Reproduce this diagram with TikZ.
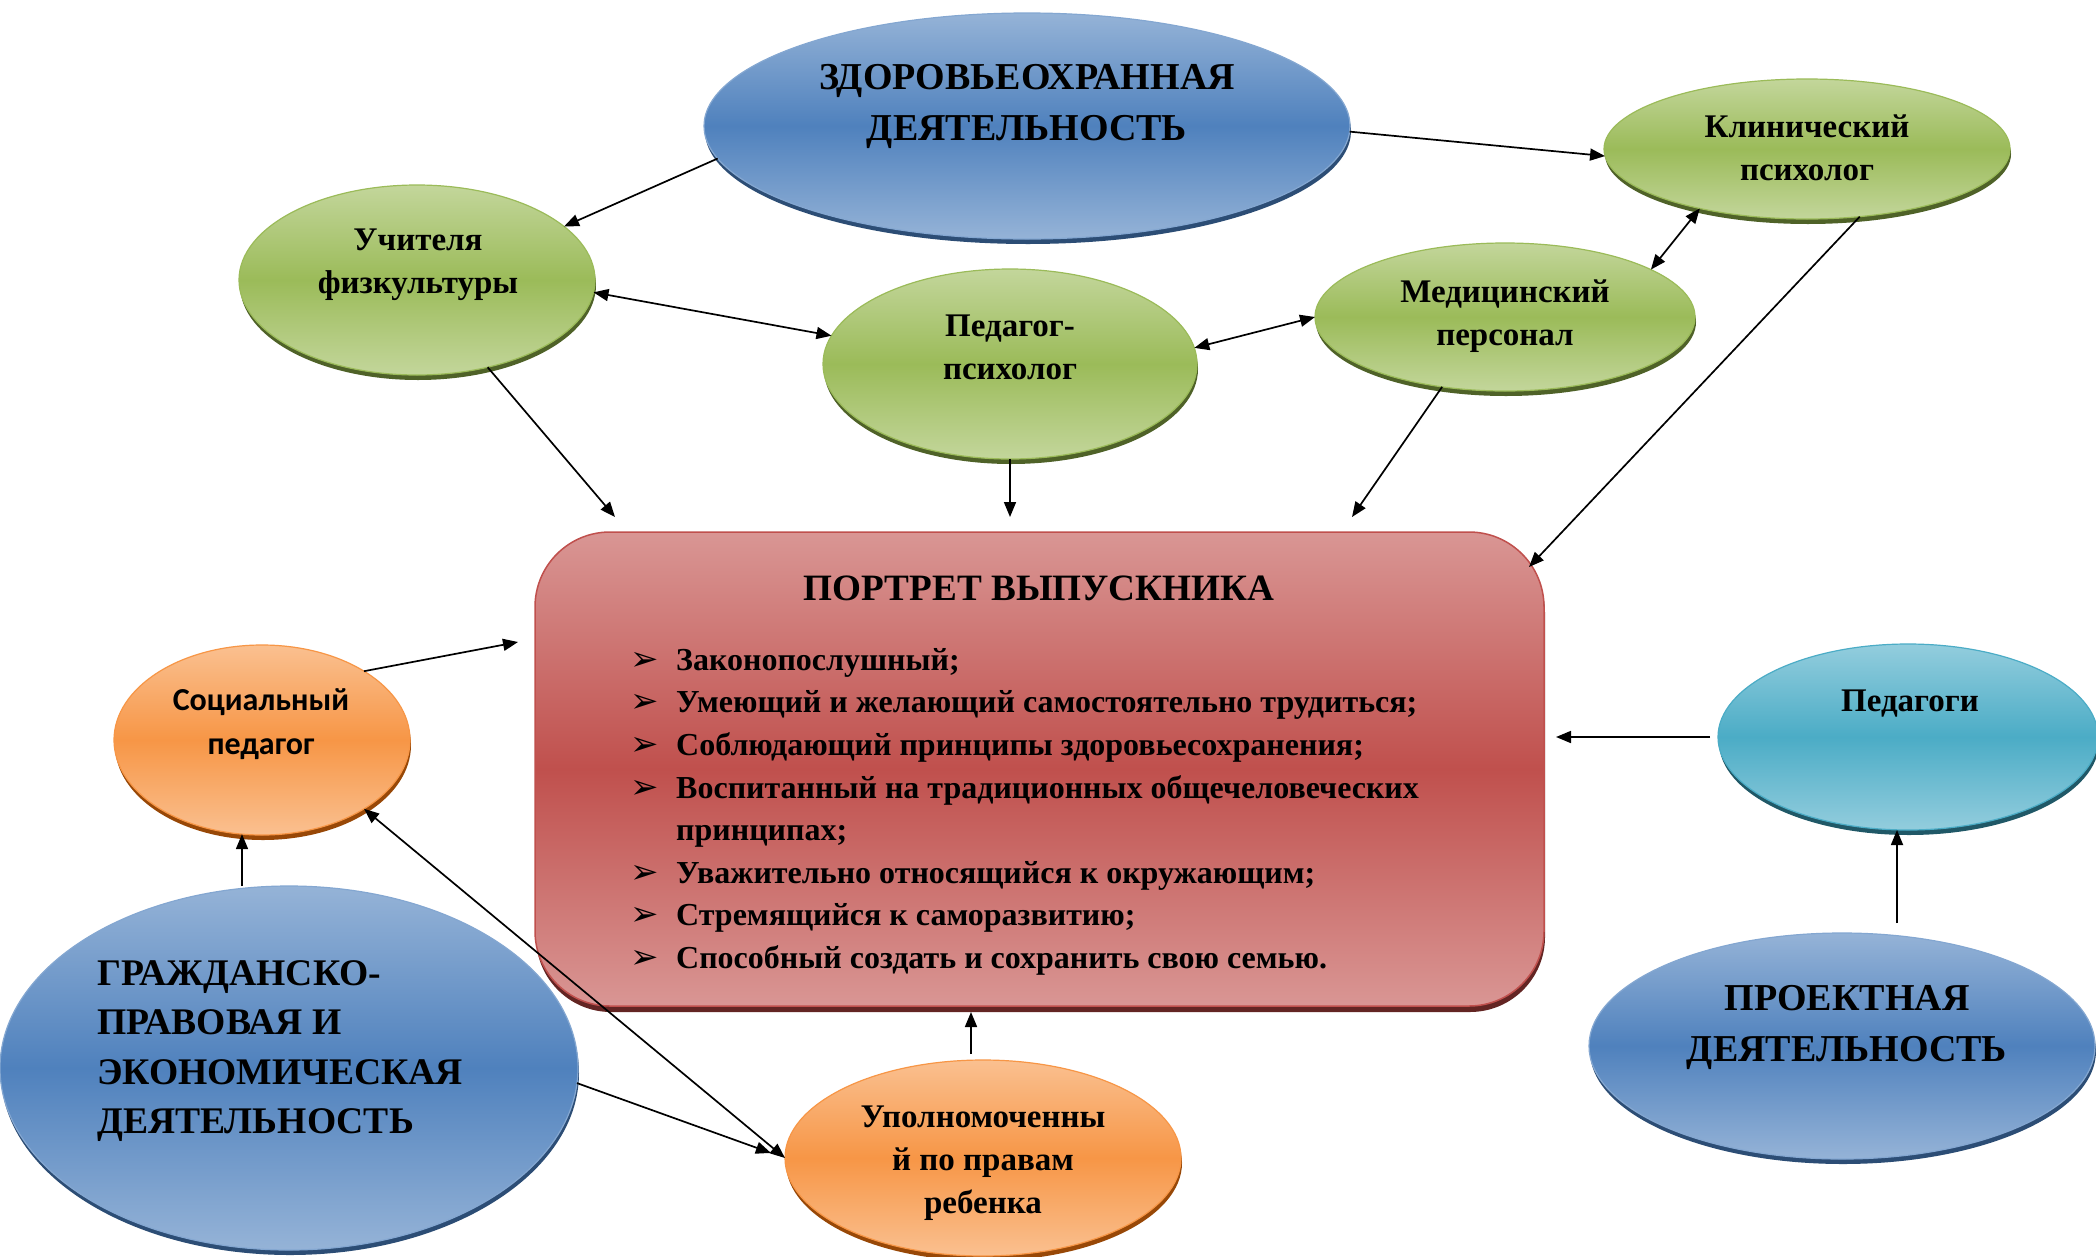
\documentclass[tikz,border=0pt]{standalone}
\usepackage{fontspec}
\setmainfont{Liberation Serif}
\newfontfamily\carl{Carlito}
\newfontfamily\djv{DejaVu Sans}
\usetikzlibrary{shapes.geometric,arrows.meta,shadows,calc}
\definecolor{blueT}{HTML}{95B3D7}
\definecolor{blueM}{HTML}{4F81BD}
\definecolor{blueR}{HTML}{2C4D75}
\definecolor{greenT}{HTML}{C3D69B}
\definecolor{greenM}{HTML}{9BBB59}
\definecolor{greenR}{HTML}{4F6228}
\definecolor{orT}{HTML}{FAC090}
\definecolor{orM}{HTML}{F79646}
\definecolor{orR}{HTML}{984807}
\definecolor{tealT}{HTML}{93CDDD}
\definecolor{tealM}{HTML}{4BACC6}
\definecolor{tealR}{HTML}{205867}
\definecolor{redT}{HTML}{D99694}
\definecolor{redM}{HTML}{C0504D}
\definecolor{redR}{HTML}{632523}
\newcommand{\blt}{\makebox[46pt][l]{\normalfont\djv\fontsize{34}{34}\selectfont ➢}}
\tikzset{
  ell/.style={ellipse, inner sep=0pt, outer sep=0pt},
  blueell/.style={ell, draw=blueM!70!white, line width=1.2pt, top color=blueT, bottom color=blueT, middle color=blueM,
     general shadow={fill=blueR, shadow xshift=1pt, shadow yshift=-5pt}},
  greenell/.style={ell, draw=greenM, line width=1.2pt, top color=greenT, bottom color=greenT, middle color=greenM,
     general shadow={fill=greenR, shadow xshift=1pt, shadow yshift=-5pt}},
  orell/.style={ell, draw=orM, line width=1.2pt, top color=orT, bottom color=orT, middle color=orM,
     general shadow={fill=orR, shadow xshift=1pt, shadow yshift=-5pt}},
  tealell/.style={ell, draw=tealM, line width=1.2pt, top color=tealT, bottom color=tealT, middle color=tealM,
     general shadow={fill=tealR, shadow xshift=1pt, shadow yshift=-5pt}},
  redbox/.style={rectangle, rounded corners=75pt, inner sep=0pt, outer sep=0pt, draw=redM, line width=1.5pt,
     top color=redT, bottom color=redT, middle color=redM,
     general shadow={fill=redR, shadow xshift=1pt, shadow yshift=-6pt}},
  bigtxt/.style={font=\bfseries\fontsize{38}{51}\selectfont, align=center, inner sep=0pt},
  midtxt/.style={font=\bfseries\fontsize{33}{43}\selectfont, align=center, inner sep=0pt},
  arr/.style={line width=1.7pt, -{Triangle[length=15pt,width=12pt]}},
  darr/.style={line width=1.7pt, {Triangle[length=15pt,width=12pt]}-{Triangle[length=15pt,width=12pt]}},
}
\begin{document}
\begin{tikzpicture}[x=1pt,y=-1pt]
\useasboundingbox[fill=white] (0,0) rectangle (2096,1256);
% shapes
\node[blueell, minimum width=646pt, minimum height=226pt] (zdor) at (1027,126) {};
\node[greenell, minimum width=406pt, minimum height=140pt] (klin) at (1807,149) {};
\node[greenell, minimum width=356pt, minimum height=190pt] (uchit) at (417,280) {};
\node[greenell, minimum width=374pt, minimum height=190pt] (pedpsy) at (1010,364) {};
\node[greenell, minimum width=380pt, minimum height=148pt] (med) at (1505,317) {};
\node[redbox, minimum width=1009pt, minimum height=474pt] (portret) at (1039.5,769) {};
\node[orell, minimum width=296pt, minimum height=190pt] (soc) at (262,740) {};
\node[blueell, minimum width=578pt, minimum height=364pt] (grazh) at (289,1068) {};
\node[orell, minimum width=396pt, minimum height=196pt] (upoln) at (983,1158) {};
\node[tealell, minimum width=380pt, minimum height=186pt] (pedagogi) at (1908,737) {};
\node[blueell, minimum width=506pt, minimum height=226pt] (proekt) at (1842,1046) {};
% texts
\node[bigtxt] (tzdor) at (1027,106) {ЗДОРОВЬЕОХРАННАЯ\\ДЕЯТЕЛЬНОСТЬ};
\node[midtxt] (tklin) at (1807,148) {Клинический\\психолог};
\node[midtxt] (tuchit) at (418,265) {Учителя\\физкультуры};
\node[midtxt] (tpedpsy) at (1010,347) {Педагог-\\психолог};
\node[midtxt] (tmed) at (1505,316) {Медицинский\\персонал};
\node[font=\bfseries\fontsize{37.2}{43}\selectfont, inner sep=0pt] (tportret) at (1039,588) {ПОРТРЕТ ВЫПУСКНИКА};
\node[font=\bfseries\fontsize{32}{42.6}\selectfont, align=left, inner sep=0pt, anchor=north west] (tlist) at (630,648)
 {\blt Законопослушный;\\
  \blt Умеющий и желающий самостоятельно трудиться;\\
  \blt Соблюдающий принципы здоровьесохранения;\\
  \blt Воспитанный на традиционных общечеловеческих\\
  \makebox[46pt][l]{}принципах;\\
  \blt Уважительно относящийся к окружающим;\\
  \blt Стремящийся к саморазвитию;\\
  \blt Способный создать и сохранить свою семью.};
\node[font=\carl\bfseries\fontsize{32}{44}\selectfont, align=center, inner sep=0pt] (tsoc) at (261,724) {Социальный\\педагог};
\node[font=\bfseries\fontsize{37.6}{49.5}\selectfont, align=left, inner sep=0pt, anchor=west] (tgrazh) at (97,1051) {ГРАЖДАНСКО-\\ПРАВОВАЯ И\\ЭКОНОМИЧЕСКАЯ\\ДЕЯТЕЛЬНОСТЬ};
\node[midtxt] (tupoln) at (983,1163) {Уполномоченны\\й по правам\\ребенка};
\node[midtxt] (tpedagogi) at (1910,704) {Педагоги};
\node[bigtxt] (tproekt) at (1847,1027) {ПРОЕКТНАЯ\\ДЕЯТЕЛЬНОСТЬ};
% connectors
\draw[arr] (zdor.186) -- (uchit.20);
\draw[arr] (zdor.-1) -- (klin.182);
\draw[darr] (uchit.-4.5) -- (pedpsy.171);
\draw[darr] (pedpsy.5.5) -- (med.180);
\draw[darr] (med.18.4) -- (klin.209);
\draw[arr] (uchit.-51) -- ([xshift=80pt,yshift=15pt]portret.north west);
\draw[arr] (pedpsy.south) -- ([yshift=15pt]pedpsy.south |- portret.north);
\draw[arr] (med.228.6) -- ([xshift=817pt,yshift=15pt]portret.north west);
\draw[arr] (klin.-52.2) -- ([xshift=-15pt,yshift=-35pt]portret.north east);
\draw[arr] (soc.34.8) -- ([xshift=-17pt,yshift=-110pt]portret.north west);
\draw[arr] (soc.258 |- grazh.north) -- (soc.258);
\draw[darr] (soc.-34.5) -- (upoln.west);
\draw[arr, shorten >=15pt] (grazh.-3.6) -- (upoln.west);
\draw[arr] ([xshift=-12pt,yshift=6pt]upoln.north) -- ([xshift=-12pt,yshift=-6pt]upoln.north |- portret.south);
\draw[arr, shorten <=8pt, shorten >=12pt] (pedagogi.west) -- (pedagogi.west -| portret.east);
\draw[arr, shorten <=10pt] ([xshift=-11pt]pedagogi.south |- proekt.north) -- ([xshift=-11pt]pedagogi.south);
\end{tikzpicture}
\end{document}
